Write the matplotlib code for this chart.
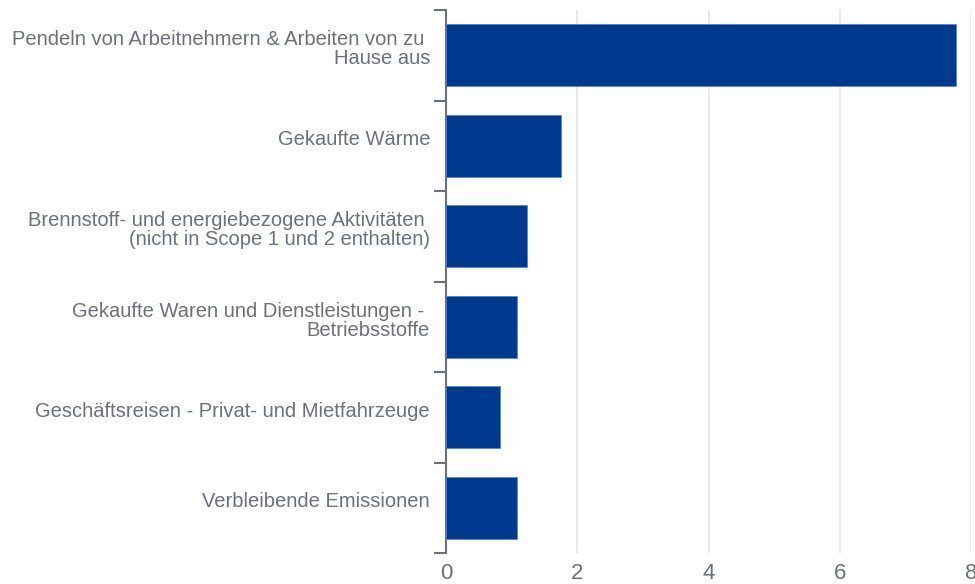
import matplotlib
matplotlib.use("Agg")
import matplotlib.pyplot as plt
import matplotlib.transforms as mtransforms
import numpy as np

categories = [
    "Pendeln von Arbeitnehmern & Arbeiten von zu \nHause aus",
    "Gekaufte Wärme",
    "Brennstoff- und energiebezogene Aktivitäten \n(nicht in Scope 1 und 2 enthalten)",
    "Gekaufte Waren und Dienstleistungen - \nBetriebsstoffe",
    "Geschäftsreisen - Privat- und Mietfahrzeuge",
    "Verbleibende Emissionen",
]
values = [7.77, 1.75, 1.24, 1.08, 0.82, 1.08]
xticks = [0, 2, 4, 6, 8]

plt.rcParams['font.family'] = ['Liberation Sans', 'DejaVu Sans']
text_color = "#6e7079"
bar_color = "#003a8f"
grid_color = "#e0e3ef"
axis_color = "#6e7079"

fig = plt.figure(figsize=(9.75, 5.84), dpi=100)
ax = fig.add_axes([446/975, 1-553/584, (971-446)/975, (553-10)/584])

y = np.arange(len(categories))
ax.barh(y, values, height=0.69, color=bar_color, edgecolor="#5a7fbf", linewidth=0.5, zorder=3)
ax.set_ylim(len(categories)-0.5, -0.5)
ax.set_xlim(0, 8)

ax.set_xticks(xticks)
ax.set_xticklabels([str(t) for t in xticks])
ax.tick_params(axis='x', length=0, labelsize=16, labelcolor=text_color, pad=7)
ax.xaxis.grid(True, color=grid_color, linewidth=1.2, zorder=0)
ax.set_axisbelow(True)

ax.set_yticks(y)
ax.set_yticklabels(categories, ha='right', linespacing=1.0)
ax.tick_params(axis='y', which='major', length=0, labelsize=14.5, labelcolor=text_color, pad=11.5)
ax.set_yticks(np.arange(-0.5, len(categories)+0.5, 1.0), minor=True)
ax.tick_params(axis='y', which='minor', length=9, width=1.5, color=axis_color, direction='out')

shift = mtransforms.ScaledTranslation(0, 8/100, fig.dpi_scale_trans)
for lbl in ax.get_yticklabels():
    lbl.set_transform(lbl.get_transform() + shift)

for s in ['top', 'right', 'bottom']:
    ax.spines[s].set_visible(False)
ax.spines['left'].set_color(axis_color)
ax.spines['left'].set_linewidth(1.5)

fig.savefig("out.png", dpi=100)
